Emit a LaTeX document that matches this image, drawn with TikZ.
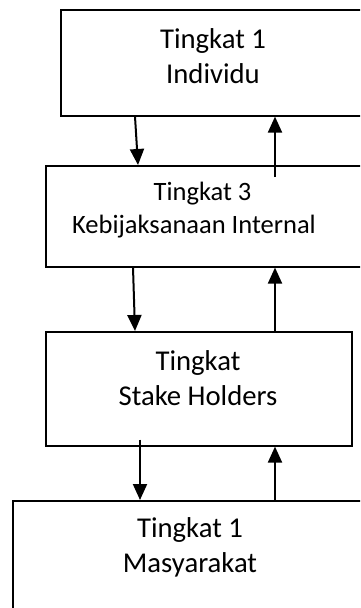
\documentclass[tikz,border=0pt]{standalone}
\usepackage{fontspec}
\setmainfont{Carlito}
\usetikzlibrary{arrows.meta}

\tikzset{
  levelbox/.style={draw=black, line width=1.6pt, fill=none, inner sep=0pt,
    anchor=north west, minimum width=#1},
  flow/.style={line width=2pt, -{Triangle[length=16pt, width=14pt]}},
  bigtext/.style={align=center, inner sep=0pt, font=\fontsize{28.7}{35}\selectfont},
  smalltext/.style={align=center, inner sep=0pt, font=\fontsize{26.5}{32.5}\selectfont}
}

\begin{document}
\begin{tikzpicture}[x=1pt, y=1pt]
  \useasboundingbox (0,0) rectangle (360,-608);
  \clip (0,0) rectangle (360,-608);

  % the four levels
  \node[levelbox=306pt, minimum height=106pt] (lvlA) at (60,-9) {};
  \node[levelbox=320pt, minimum height=101pt] (lvlB) at (45,-165) {};
  \node[levelbox=306pt, minimum height=114pt] (lvlC) at (45,-331) {};
  \node[levelbox=368pt, minimum height=130pt] (lvlD) at (12,-500) {};

  % captions
  \node[bigtext] (capA) at (213,-56) {Tingkat 1\\Individu};
  \node[smalltext] (capB) at (194,-210) {\hspace*{17pt}Tingkat 3\\Kebijaksanaan Internal};
  \node[bigtext] (capC) at (198,-378) {Tingkat\\Stake Holders};
  \node[bigtext] (capD) at (190,-547) {Tingkat 1\\Masyarakat};

  % downward arrows
  \draw[flow] ([xshift=75pt]lvlA.south west) -- ([xshift=93pt]lvlB.north west);
  \draw[flow] ([xshift=88pt]lvlB.south west) -- ([xshift=90pt]lvlC.north west);
  \coordinate (startC) at ([xshift=95pt, yshift=7pt]lvlC.south west);
  \draw[flow] (startC) -- ([xshift=128pt]lvlD.north west);

  % upward arrows
  \coordinate (startB) at ([xshift=230pt, yshift=-12pt]lvlB.north west);
  \draw[flow] (startB) -- ([xshift=215pt]lvlA.south west);
  \draw[flow] ([xshift=230pt]lvlC.north west) -- ([xshift=230pt]lvlB.south west);
  \draw[flow] ([xshift=263pt]lvlD.north west) -- ([xshift=230pt]lvlC.south west);
\end{tikzpicture}
\end{document}
